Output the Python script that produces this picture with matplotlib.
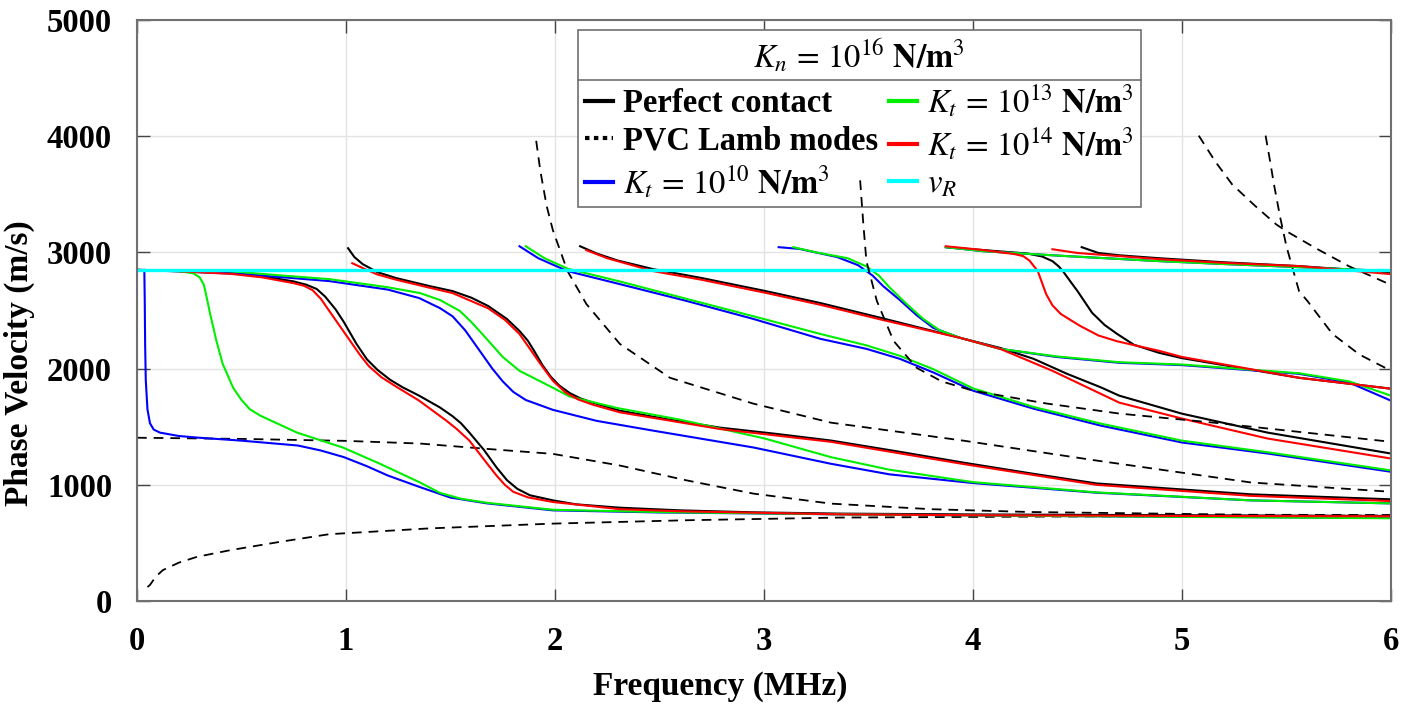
import numpy as np
import matplotlib
matplotlib.use('Agg')
import matplotlib.pyplot as plt
from matplotlib.lines import Line2D

plt.rcParams['font.family'] = ['Liberation Serif', 'DejaVu Serif']
plt.rcParams['font.weight'] = 'normal'
plt.rcParams['mathtext.fontset'] = 'stix'
plt.rcParams['lines.scale_dashes'] = False

# (frequency MHz, phase velocity m/s)

# perfect contact (black)
pc_1 = [(0.00, 2850), (0.20, 2840), (0.45, 2822), (0.60, 2795), (0.75, 2750), (0.81, 2722),
        (0.86, 2685), (0.90, 2620), (0.95, 2510), (0.99, 2400), (1.05, 2213), (1.10, 2080),
        (1.15, 1990), (1.21, 1905), (1.27, 1840), (1.35, 1767), (1.45, 1665), (1.51, 1590),
        (1.55, 1530), (1.59, 1450), (1.66, 1300), (1.72, 1150), (1.77, 1040), (1.82, 965),
        (1.88, 910), (1.99, 866), (2.10, 832), (2.31, 803), (2.60, 780), (2.95, 763),
        (3.36, 752), (4.00, 745), (5.00, 738), (6.00, 732)]
pc_2 = [(1.01, 3036), (1.04, 2960), (1.08, 2899), (1.15, 2830), (1.24, 2779), (1.40, 2710),
        (1.51, 2667), (1.60, 2610), (1.68, 2539), (1.77, 2427), (1.83, 2324), (1.87, 2240),
        (1.90, 2153), (1.94, 2030), (1.98, 1930), (2.02, 1855), (2.07, 1790), (2.12, 1745),
        (2.18, 1707), (2.31, 1638), (2.55, 1560), (2.79, 1492), (3.05, 1440), (3.32, 1381),
        (3.63, 1290), (3.95, 1192), (4.27, 1100), (4.59, 1012), (5.00, 960), (5.33, 918),
        (6.00, 875)]
pc_3 = [(2.12, 3053), (2.20, 2990), (2.30, 2930), (2.47, 2856), (2.70, 2780), (3.00, 2670),
        (3.27, 2564), (3.56, 2436), (3.94, 2264), (4.13, 2178), (4.29, 2084), (4.45, 1955),
        (4.61, 1840), (4.70, 1767), (5.00, 1612), (5.41, 1449), (6.00, 1269)]
pc_4 = [(3.87, 3045), (4.05, 3020), (4.26, 2990), (4.33, 2965), (4.38, 2925), (4.41, 2880),
        (4.43, 2839), (4.47, 2740), (4.50, 2667), (4.54, 2560), (4.57, 2480), (4.63, 2375),
        (4.69, 2298), (4.77, 2205), (4.89, 2136), (5.00, 2090), (5.56, 1921), (6.00, 1827)]
pc_5 = [(4.52, 3045), (4.60, 2995), (4.70, 2975), (4.89, 2950), (5.20, 2915), (5.56, 2882),
        (6.00, 2827)]

# PVC Lamb modes (dashed)
lamb_1 = [(0.05, 120), (0.062, 138), (0.09, 210), (0.124, 266), (0.20, 330), (0.287, 380),
          (0.445, 437), (0.684, 509), (0.92, 575), (1.40, 625), (1.99, 666), (2.63, 695),
          (3.36, 718), (4.50, 728), (6.00, 735)]
lamb_2 = [(0.00, 1405), (0.50, 1395), (1.00, 1378), (1.354, 1355), (1.675, 1309), (1.99, 1266),
          (2.31, 1166), (2.63, 1038), (2.95, 924), (3.32, 838), (3.80, 790), (4.27, 766),
          (5.33, 742), (6.00, 740)]
lamb_3 = [(1.91, 3960), (1.93, 3700), (1.96, 3400), (1.99, 3190), (2.06, 2839), (2.15, 2556),
          (2.31, 2213), (2.55, 1921), (2.95, 1698), (3.32, 1535), (3.95, 1381), (4.59, 1209),
          (5.33, 1020), (6.00, 940)]
lamb_4 = [(3.46, 3620), (3.475, 3250), (3.49, 2925), (3.54, 2582), (3.62, 2238), (3.73, 2007),
          (3.85, 1890), (4.00, 1810), (4.35, 1700), (4.70, 1613), (5.15, 1535), (6.00, 1370)]
lamb_5 = [(5.08, 4005), (5.16, 3780), (5.24, 3585), (5.35, 3400), (5.45, 3242), (5.50, 3182),
          (5.64, 3036), (5.80, 2880), (6.00, 2720)]
lamb_6 = [(5.40, 4005), (5.42, 3800), (5.44, 3585), (5.47, 3300), (5.50, 3050), (5.56, 2667),
          (5.60, 2582), (5.72, 2298), (5.85, 2120), (6.00, 1981)]

# Kt = 1e10 (blue)
kt10_1 = [(0.035, 2850), (0.037, 2600), (0.039, 2200), (0.042, 1900), (0.05, 1650), (0.062, 1530),
          (0.08, 1475), (0.11, 1449), (0.20, 1420), (0.29, 1406), (0.50, 1380), (0.77, 1338),
          (0.88, 1295), (0.99, 1238), (1.10, 1160), (1.20, 1080), (1.354, 980), (1.50, 890),
          (1.675, 840), (1.99, 780), (2.50, 762), (3.36, 746), (4.50, 730), (6.00, 715)]
kt10_2 = [(0.00, 2850), (0.50, 2815), (0.92, 2753), (1.20, 2680), (1.35, 2607), (1.45, 2520),
          (1.51, 2450), (1.57, 2330), (1.63, 2178), (1.70, 2000), (1.75, 1890), (1.80, 1800),
          (1.86, 1730), (1.99, 1645), (2.20, 1550), (2.47, 1466), (2.95, 1321), (3.32, 1181),
          (3.60, 1090), (4.00, 1015), (4.59, 932), (5.33, 866), (6.00, 840)]
kt10_3 = [(1.83, 3053), (1.92, 2950), (2.06, 2839), (2.31, 2727), (2.63, 2582), (2.95, 2427),
          (3.27, 2256), (3.49, 2170), (3.65, 2084), (3.81, 1967), (4.00, 1810), (4.29, 1655),
          (4.61, 1510), (5.00, 1364), (5.41, 1269), (6.00, 1112)]
kt10_4 = [(3.07, 3045), (3.17, 3030), (3.35, 2960), (3.45, 2890), (3.52, 2800), (3.57, 2710),
          (3.65, 2590), (3.73, 2460), (3.81, 2350), (3.94, 2264), (4.13, 2170), (4.40, 2100),
          (4.70, 2050), (5.00, 2030), (5.56, 1955), (5.80, 1880), (6.00, 1724)]
kt10_5 = [(3.87, 3045), (4.05, 3010), (4.45, 2968), (4.89, 2925), (5.20, 2900), (5.60, 2870),
          (6.00, 2839)]

# Kt = 1e13 (green)
kt13_1 = [(0.00, 2850), (0.20, 2838), (0.27, 2820), (0.30, 2785), (0.32, 2720), (0.335, 2600),
          (0.35, 2470), (0.38, 2238), (0.41, 2041), (0.46, 1835), (0.50, 1730), (0.54, 1650),
          (0.59, 1595), (0.766, 1449), (0.986, 1320), (1.16, 1183), (1.354, 1020), (1.45, 930),
          (1.55, 880), (1.675, 845), (1.99, 785), (2.50, 765), (3.36, 746), (4.50, 730),
          (6.00, 712)]
kt13_2 = [(0.40, 2845), (0.70, 2800), (0.92, 2770), (1.20, 2700), (1.354, 2650), (1.45, 2590),
          (1.545, 2496), (1.60, 2400), (1.656, 2290), (1.75, 2100), (1.83, 1981), (1.99, 1835),
          (2.07, 1760), (2.30, 1660), (2.60, 1560), (3.00, 1400), (3.32, 1238), (3.60, 1130),
          (4.00, 1023), (4.59, 935), (5.33, 866), (6.00, 840)]
kt13_3 = [(1.86, 3053), (1.95, 2950), (2.06, 2860), (2.31, 2750), (2.63, 2600), (2.95, 2450),
          (3.27, 2298), (3.49, 2200), (3.65, 2110), (3.81, 1995), (4.00, 1830), (4.29, 1670),
          (4.61, 1527), (5.00, 1380), (5.41, 1280), (6.00, 1124)]
kt13_4 = [(3.14, 3045), (3.25, 3000), (3.40, 2950), (3.49, 2880), (3.55, 2800), (3.60, 2700),
          (3.68, 2560), (3.76, 2430), (3.84, 2330), (3.94, 2264), (4.13, 2170), (4.40, 2105),
          (4.70, 2055), (5.00, 2035), (5.56, 1960), (5.80, 1890), (6.00, 1767)]
kt13_5 = [(3.87, 3045), (4.05, 3010), (4.45, 2968), (4.89, 2925), (5.20, 2900), (5.60, 2870),
          (6.00, 2839)]

# Kt = 1e14 (red)
kt14_1 = [(0.00, 2850), (0.20, 2838), (0.45, 2815), (0.60, 2785), (0.75, 2735), (0.80, 2712),
          (0.84, 2675), (0.88, 2600), (0.92, 2496), (1.02, 2238), (1.07, 2110), (1.11, 2020),
          (1.17, 1925), (1.24, 1845), (1.35, 1724), (1.48, 1552), (1.53, 1480), (1.59, 1381),
          (1.675, 1183), (1.72, 1080), (1.76, 1000), (1.80, 940), (1.87, 892), (1.99, 852),
          (2.31, 790), (2.60, 772), (3.36, 746), (4.00, 738), (5.00, 732), (6.00, 729)]
kt14_2 = [(1.03, 2907), (1.08, 2865), (1.15, 2810), (1.24, 2765), (1.40, 2696), (1.51, 2650),
          (1.68, 2519), (1.76, 2420), (1.83, 2298), (1.88, 2170), (1.93, 2041), (1.99, 1895),
          (2.05, 1795), (2.11, 1735), (2.18, 1690), (2.31, 1624), (2.79, 1480), (3.32, 1370),
          (3.95, 1180), (4.59, 1000), (5.33, 905), (6.00, 860)]
kt14_3 = [(2.15, 3019), (2.25, 2950), (2.47, 2839), (2.70, 2765), (3.00, 2655), (3.27, 2549),
          (3.56, 2422), (3.94, 2264), (4.13, 2170), (4.38, 1981), (4.61, 1784), (4.70, 1707),
          (5.00, 1570), (5.41, 1398), (6.00, 1226)]
kt14_4 = [(3.87, 3053), (4.05, 3020), (4.20, 2985), (4.24, 2968), (4.27, 2930), (4.31, 2839),
          (4.35, 2641), (4.38, 2545), (4.42, 2470), (4.51, 2370), (4.60, 2285), (4.69, 2235),
          (4.89, 2153), (5.00, 2100), (5.56, 1921), (6.00, 1827)]
kt14_5 = [(4.38, 3027), (4.50, 2995), (4.70, 2968), (4.89, 2942), (5.20, 2910), (5.56, 2882),
          (6.00, 2813)]

# Rayleigh velocity
vr_f = [0.0, 6.0]
vr_v = [2850, 2850]


def draw(ax, pts, **kw):
	a = np.array(pts)
	return ax.plot(a[:, 0], a[:, 1], **kw)[0]


fig = plt.figure(figsize=(14.15, 7.06), dpi=100)
ax = fig.add_axes([137 / 1415, 1 - 601 / 706, (1391 - 137) / 1415, (601 - 20) / 706])

lw = 1.5
for b in [pc_1, pc_2, pc_3, pc_4, pc_5]:
	draw(ax, b, color='black', lw=lw)
for b in [lamb_1, lamb_2, lamb_3, lamb_5, lamb_6]:
	draw(ax, b, color='black', lw=1.3, dashes=(7, 5))
draw(ax, lamb_4, color='black', lw=1.3, dashes=(7, 5), zorder=6)
for b in [kt10_1, kt10_2, kt10_3, kt10_4, kt10_5]:
	draw(ax, b, color='#0000ff', lw=lw)
for b in [kt13_1, kt13_2, kt13_3, kt13_4, kt13_5]:
	draw(ax, b, color='#00ee00', lw=lw)
for b in [kt14_1, kt14_2, kt14_3, kt14_4, kt14_5]:
	draw(ax, b, color='#ff0000', lw=lw)
ax.plot(vr_f, vr_v, color='#00ffff', lw=2.4)

ax.set_xlim(0, 6)
ax.set_ylim(0, 5000)
ax.set_xticks(range(0, 7))
ax.set_yticks(range(0, 5001, 1000))
ax.grid(True, color='#e3e3e3', lw=1.0)
ax.set_axisbelow(True)
ax.tick_params(direction='in', length=9, width=1, color='#444444', top=True, right=True,
               labelsize=23.5, pad=18)
for lab in ax.get_xticklabels() + ax.get_yticklabels():
	lab.set_fontweight('bold')
for s in ax.spines.values():
	s.set_color('#707070')
	s.set_linewidth(1.5)

ax.set_xlabel('Frequency (MHz)', fontsize=24, fontweight='bold')
ax.xaxis.set_label_coords(0.465, -0.12)
ax.set_ylabel('Phase Velocity (m/s)', fontsize=24, fontweight='bold')
ax.yaxis.set_label_coords(-0.081, 0.41)

handles = [Line2D([], [], color='black', lw=3),
           Line2D([], [], color='black', lw=3, dashes=(3.2, 3.2)),
           Line2D([], [], color='#0000ff', lw=3),
           Line2D([], [], color='#00ee00', lw=3),
           Line2D([], [], color='#ff0000', lw=3),
           Line2D([], [], color='#00ffff', lw=3)]
labels = ['Perfect contact', 'PVC Lamb modes',
          r'$K_t\, =\, 10^{10}\ \mathbf{N/m}^{3}$',
          r'$K_t\, =\, 10^{13}\ \mathbf{N/m}^{3}$',
          r'$K_t\, =\, 10^{14}\ \mathbf{N/m}^{3}$',
          r'$v_R$']
leg = ax.legend(handles, labels, ncol=2, loc='upper left', bbox_to_anchor=(0.3517, 0.9828),
                borderaxespad=0, prop={'size': 23.5, 'weight': 'normal'},
                title=r'$K_n\, =\, 10^{16}\ \mathbf{N/m}^{3}$',
                title_fontproperties={'size': 23.5, 'weight': 'normal'},
                frameon=True, fancybox=False, framealpha=1,
                edgecolor='#707070', handlelength=0.85, handletextpad=0.3, columnspacing=0.35,
                labelspacing=0.2, borderpad=0.22)
leg.get_frame().set_linewidth(1.2)
leg.set_zorder(5)
for t in leg.get_texts()[:2]:
	t.set_fontweight('bold')

fig.canvas.draw()
r = fig.canvas.get_renderer()
tb = leg.get_title().get_window_extent(r)
fb = leg.get_frame().get_window_extent(r)
W, H = fig.bbox.width, fig.bbox.height
ysep = (tb.y0 - 4) / H
fig.add_artist(Line2D([fb.x0 / W, fb.x1 / W], [ysep, ysep], color='#707070', lw=1.2,
                      transform=fig.transFigure, zorder=7))

fig.savefig('out.png', dpi=100)
